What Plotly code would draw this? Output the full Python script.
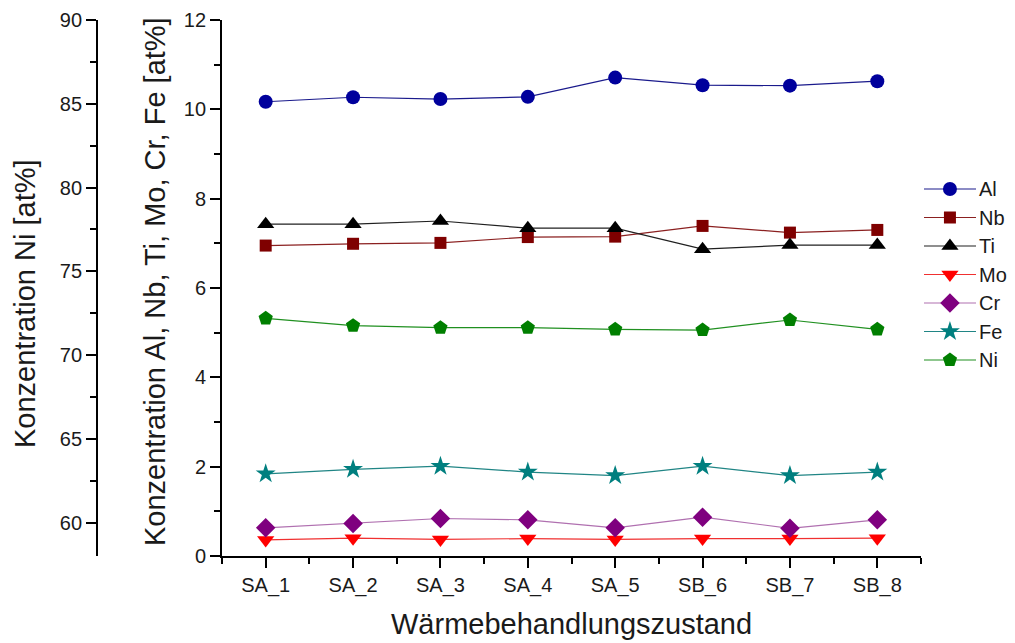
import plotly.graph_objects as go

categories = ["SA_1", "SA_2", "SA_3", "SA_4", "SA_5", "SB_6", "SB_7", "SB_8"]
al = [10.17, 10.27, 10.23, 10.28, 10.71, 10.54, 10.53, 10.63]
nb = [6.95, 6.99, 7.01, 7.14, 7.15, 7.39, 7.24, 7.30]
ti = [7.43, 7.43, 7.50, 7.34, 7.34, 6.87, 6.96, 6.96]
mo = [0.36, 0.40, 0.37, 0.39, 0.37, 0.39, 0.39, 0.40]
cr = [0.63, 0.73, 0.84, 0.81, 0.63, 0.87, 0.62, 0.81]
fe = [1.84, 1.94, 2.01, 1.88, 1.80, 2.01, 1.80, 1.88]
ni = [72.19, 71.75, 71.63, 71.63, 71.53, 71.49, 72.09, 71.53]

x = list(range(1, len(categories) + 1))
FONT = "Arial, Liberation Sans, sans-serif"
TXT = "#1a1a1a"

series = [
    ("Al", al, "#00009C", "#1A1A8C", "circle", 14, "y"),
    ("Nb", nb, "#7F0000", "#8B2020", "square", 12, "y"),
    ("Ti", ti, "#000000", "#202020", "triangle-up", 15, "y"),
    ("Mo", mo, "#FF0000", "#F03030", "triangle-down", 15, "y"),
    ("Cr", cr, "#7F007F", "#B070B0", "diamond", 15, "y"),
    ("Fe", fe, "#007F7F", "#208585", "star", 15, "y"),
    ("Ni", ni, "#007F00", "#209020", "pentagon", 15, "y2"),
]

# page body adds an 8px margin; all layout pixel constants below are window pixels
OFF = 8
WIN_W, WIN_H = 1015, 643
W, H = WIN_W - OFF, WIN_H - OFF
NI_AX_X, X0, X1 = 97, 222, 921     # window x of Ni axis, main plot left/right
Y_TOP, Y_BOT = 20, 556             # window y of plot top/bottom
L, R = NI_AX_X - OFF, 0
T, B = Y_TOP - OFF, H - (Y_BOT - OFF)
pw = W - L - R
ph = H - T - B


def px_x(p):
    return (p - NI_AX_X) / pw


def px_y(p):
    return 1 - (p - Y_TOP) / ph


fig = go.Figure()
for name, vals, col, lcol, sym, sz, ax in series:
    fig.add_trace(go.Scatter(
        x=x, y=vals, name=name, yaxis=ax, mode="lines+markers",
        line=dict(color=lcol, width=1.2),
        marker=dict(symbol=sym, size=sz, color=col, line=dict(width=0)),
        showlegend=False,
    ))

# custom legend (long Origin-style keys) in its own pixel-unit subplot
LEG_Y0, LEG_DY = 189, 28.5
LEG_LX0, LEG_LX1, LEG_MX, LEG_TX = 924, 976, 950, 977
shapes = []
annotations = []
for i, (name, vals, col, lcol, sym, sz, ax) in enumerate(series):
    yy = LEG_Y0 + i * LEG_DY
    shapes.append(dict(type="line", xref="paper", yref="paper",
                       x0=px_x(LEG_LX0), x1=px_x(LEG_LX1), y0=px_y(yy), y1=px_y(yy),
                       line=dict(color=lcol, width=1.2), layer="below"))
    fig.add_trace(go.Scatter(
        x=[LEG_MX], y=[yy], xaxis="x3", yaxis="y4", mode="markers",
        marker=dict(symbol=sym, size=sz, color=col, line=dict(width=0)),
        showlegend=False, hoverinfo="skip", cliponaxis=False,
    ))
    annotations.append(dict(text=name, xref="paper", yref="paper",
                            x=px_x(LEG_TX), y=px_y(yy),
                            xanchor="left", yanchor="middle", showarrow=False,
                            font=dict(family=FONT, size=20, color=TXT)))

axis_common = dict(
    showline=True, linecolor="black", linewidth=1.8,
    ticks="outside", ticklen=10, tickwidth=1.6, tickcolor="black",
    showgrid=False, zeroline=False, automargin=False,
    tickfont=dict(family=FONT, size=20, color=TXT),
)
minor_common = dict(ticks="outside", ticklen=6, tickwidth=1.6, tickcolor="black")

annotations += [
    dict(text="Wärmebehandlungszustand", xref="paper", yref="paper",
         x=px_x(571), y=px_y(624), xanchor="center", yanchor="middle", showarrow=False,
         font=dict(family=FONT, size=29, color=TXT)),
    dict(text="Konzentration Al, Nb, Ti, Mo, Cr, Fe [at%]", xref="paper", yref="paper",
         x=px_x(155), y=px_y(282), xanchor="center", yanchor="middle",
         showarrow=False, textangle=-90,
         font=dict(family=FONT, size=29, color=TXT)),
    dict(text="Konzentration Ni [at%]", xref="paper", yref="paper",
         x=px_x(25), y=px_y(304), xanchor="center", yanchor="middle",
         showarrow=False, textangle=-90,
         font=dict(family=FONT, size=29, color=TXT)),
]

fig.update_layout(
    width=W, height=H,
    margin=dict(l=L, r=R, t=T, b=B, pad=0),
    paper_bgcolor="white", plot_bgcolor="rgba(0,0,0,0)",
    font=dict(family=FONT, color=TXT),
    showlegend=False,
    xaxis=dict(
        domain=[px_x(X0), px_x(X1)], range=[0.5, 8.5],
        tickvals=x, ticktext=categories,
        minor=dict(tick0=0.5, dtick=1, **minor_common),
        **axis_common,
    ),
    yaxis=dict(
        range=[0, 12], dtick=2, anchor="x",
        minor=dict(dtick=1, **minor_common),
        **axis_common,
    ),
    yaxis2=dict(
        range=[58, 90], tickvals=[60, 65, 70, 75, 80, 85, 90],
        overlaying="y", anchor="free", position=0, side="left",
        minor=dict(tickvals=[62.5, 67.5, 72.5, 77.5, 82.5, 87.5], **minor_common),
        **axis_common,
    ),
    # pixel-unit axes of a separate subplot right of the plot, used only for legend keys
    xaxis3=dict(domain=[px_x(X1) + 0.001, 1], range=[X1 + 1, WIN_W], visible=False,
                fixedrange=True, anchor="y4"),
    yaxis4=dict(domain=[0, 1], range=[Y_BOT, Y_TOP], visible=False, fixedrange=True,
                anchor="x3"),
    shapes=shapes,
    annotations=annotations,
)

fig.write_html("out.html")
